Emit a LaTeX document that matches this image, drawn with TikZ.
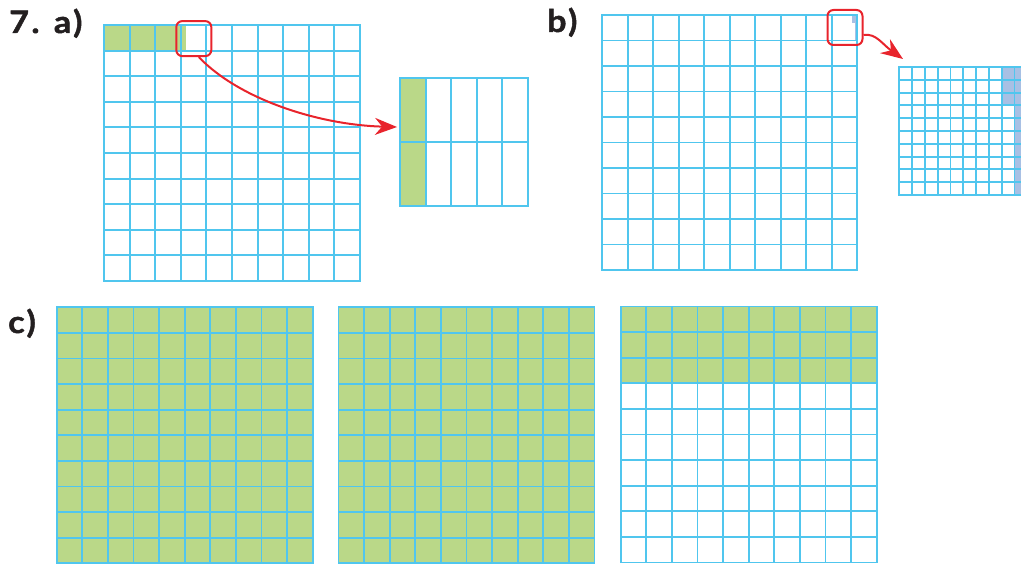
\documentclass[tikz,border=0pt]{standalone}
\usepackage{fontspec}
\setmainfont{Lato}
\newfontfamily\labfont{Lato}[BoldFeatures={FakeBold=1.5,FakeStretch=1.1,LetterSpace=8}]
\usetikzlibrary{arrows.meta}
\definecolor{gridc}{RGB}{80,198,238}
\definecolor{greenc}{RGB}{186,216,136}
\definecolor{bluec}{RGB}{168,192,228}
\definecolor{redc}{RGB}{232,36,44}
\definecolor{textc}{RGB}{35,31,32}
\newcommand\mygrid[6]{%
  \foreach \i in {0,...,#5} \draw[gl] ({#1+\i*#3},#2) -- ({#1+\i*#3},{#2+#6*#4});
  \foreach \j in {0,...,#6} \draw[gl] (#1,{#2+\j*#4}) -- ({#1+#5*#3},{#2+\j*#4});
}
\tikzset{
  gl/.style={draw=gridc, line width=1.9pt, line cap=rect},
  redbox/.style={draw=redc, line width=2pt, rounded corners=6pt, minimum width=35pt, minimum height=35pt, inner sep=0pt},
  redarrow/.style={draw=redc, line width=2pt, -{Stealth[length=22pt,width=17pt]}},
  lab/.style={anchor=base west, inner sep=0pt, text=textc, font=\labfont\fontsize{31}{31}\selectfont\bfseries},
}
\begin{document}
\begin{tikzpicture}[x=1pt,y=-1pt]
\useasboundingbox (0,0) rectangle (1021,564);
\clip (0,0) rectangle (1021,564);
% labels
\node[lab] (la) at (9,33) {7. a)};
\node[lab] (lb) at (547,32) {b)};
\node[lab] (lc) at (8,333) {c)};
% grid a
\fill[greenc] (104,25) rectangle (185.9,50.6);
\mygrid{104}{25}{25.6}{25.6}{10}{10}
% magnified a
\fill[greenc] (400,78.3) rectangle (425.6,206.3);
\mygrid{400}{78.3}{25.6}{64}{5}{2}
% grid b
\fill[bluec] (854.5,15) rectangle (857.1,40.5);
\fill[bluec] (852,15) rectangle (854.5,22.6);
\mygrid{602.3}{15}{25.48}{25.5}{10}{10}
% magnified b
\fill[bluec] (1014.5,67) rectangle (1027.3,195);
\fill[bluec] (1001.7,67) rectangle (1014.5,105.4);
\mygrid{899.3}{67}{12.8}{12.8}{10}{10}
% grids c
\fill[greenc] (56.7,307.3) rectangle (312.7,563.3);
\mygrid{56.7}{307.3}{25.6}{25.6}{10}{10}
\fill[greenc] (338.5,307.3) rectangle (594.5,563.3);
\mygrid{338.5}{307.3}{25.6}{25.6}{10}{10}
\fill[greenc] (620.7,306.5) rectangle (876.7,383.3);
\mygrid{620.7}{306.5}{25.6}{25.6}{10}{10}
% red boxes and arrows
\node[redbox] (ra) at (193.8,38.6) {};
\node[redbox] (rb) at (845,27.5) {};
\coordinate (ta) at (397,127);
\coordinate (tb) at (903,59);
\draw[redarrow] ([xshift=5pt]ra.south) .. controls (240,100) and (320,125) .. (ta);
\draw[redarrow] ([yshift=-7.5pt]rb.east) .. controls (876,33) and (882,44) .. (tb);
\end{tikzpicture}
\end{document}
